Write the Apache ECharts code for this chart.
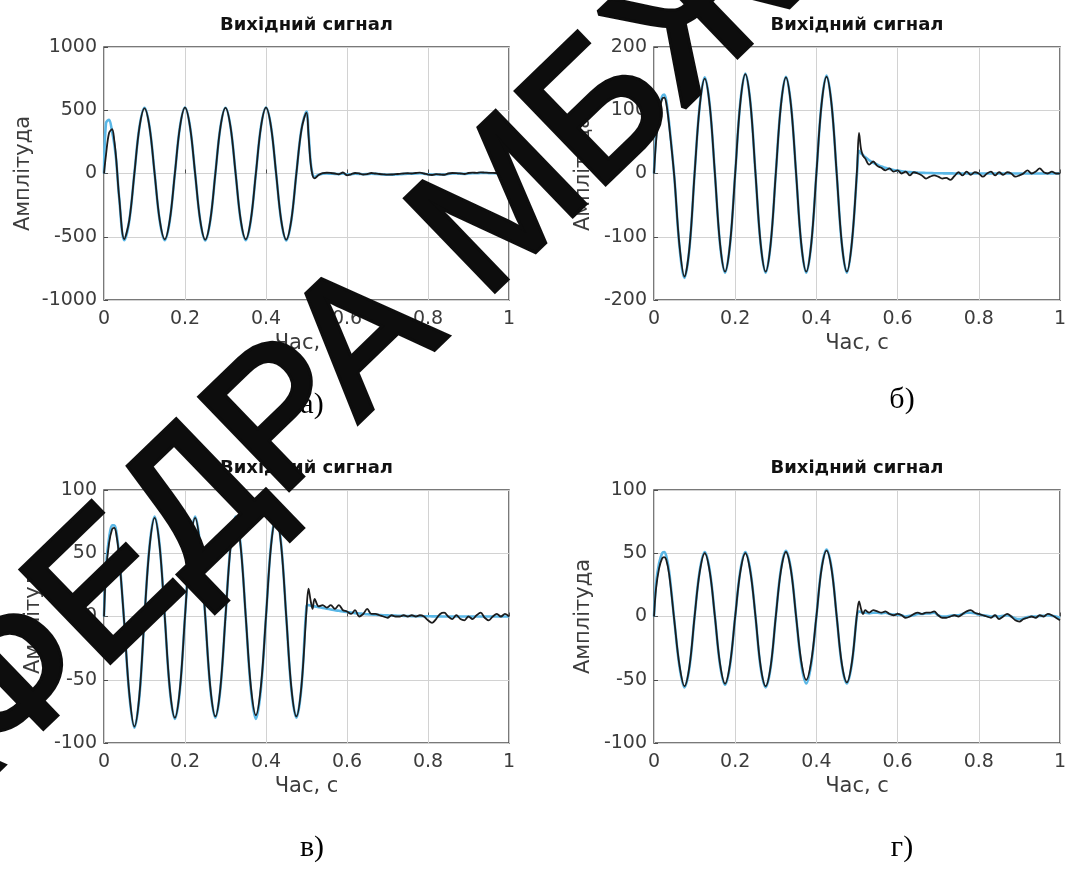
<!DOCTYPE html>
<html>
<head>
<meta charset="utf-8">
<script src="https://cdn.jsdelivr.net/npm/echarts@6/dist/echarts.min.js"></script>
<style>
html,body{margin:0;padding:0;background:#fff;}
#chart{width:1076px;height:890px;}
</style>
</head>
<body>
<div id="chart"></div>
<script>
// ---- data ----
const panelTitle = 'Вихідний сигнал';
const xName = 'Час, с';
const yName = 'Амплітуда';
const panelLabels = ['а)', 'б)', 'в)', 'г)'];
const watermarkText = 'КАФЕДРА МБЖ';

const time = [
  0, 0.005, 0.0125, 0.02, 0.025, 0.03, 0.0375,
  0.05, 0.0625, 0.075, 0.0875, 0.1, 0.1125, 0.125, 0.1375, 0.15, 0.1625, 0.175, 0.1875,
  0.2, 0.2125, 0.225, 0.2375, 0.25, 0.2625, 0.275, 0.2875, 0.3, 0.3125, 0.325, 0.3375,
  0.35, 0.3625, 0.375, 0.3875, 0.4, 0.4125, 0.425, 0.4375, 0.45, 0.4625, 0.475, 0.4875, 0.5,
  0.505, 0.51, 0.515, 0.52, 0.53, 0.54, 0.55, 0.56, 0.57, 0.58, 0.59, 0.6,
  0.61, 0.62, 0.63, 0.64, 0.65, 0.66, 0.67, 0.68, 0.69, 0.7,
  0.71, 0.72, 0.73, 0.74, 0.75, 0.76, 0.77, 0.78, 0.79, 0.8,
  0.81, 0.82, 0.83, 0.84, 0.85, 0.86, 0.87, 0.88, 0.89, 0.9,
  0.91, 0.92, 0.93, 0.94, 0.95, 0.96, 0.97, 0.98, 0.99, 1.0
];

// panel а)
const aBlack = [
  0, 150, 320, 350, 270, 120, -190,
  -518, -368, 0, 365, 515, 365, 0, -367, -520, -367, 0, 367,
  520, 367, 0, -368, -522, -368, 0, 366, 518, 366, 0, -367,
  -520, -367, 0, 367, 520, 367, 0, -368, -522, -368, 0, 345, 482,
  300, 90, -15, -38, -12, 3, 6, 4, 0, -6, 8, -14,
  -6, 4, 0, -8, -4, 4, 0, -4, -7, -9,
  -8, -5, -3, 0, 2, 0, 4, 7, 0, -8,
  -12, -5, -8, -10, 0, 4, 3, 0, -4, 4,
  7, 5, 9, 7, 5, 5, 3, 2, 1, 0
];
const aBlue = [
  0, 400, 425, 330, 240, 110, -195,
  -528, -372, 0, 368, 520, 368, 0, -372, -528, -372, 0, 370,
  522, 370, 0, -372, -530, -372, 0, 368, 520, 368, 0, -372,
  -528, -372, 0, 370, 522, 370, 0, -372, -530, -372, 0, 350, 490,
  320, 100, -5, -28, -10, -2, 0, -2, -3, -5, 0, -8,
  -6, -2, -3, -6, -5, -2, -3, -5, -8, -10,
  -10, -8, -6, -4, -2, -2, 0, 2, -2, -6,
  -9, -7, -8, -9, -4, 0, 0, -2, -3, 0,
  2, 2, 4, 4, 3, 2, 1, 0, 0, 0
];

// panel б)
const bBlack = [
  0, 50, 95, 118, 120, 112, 75,
  -5, -112, -163, -116, 0, 106, 150, 106, 0, -110, -155, -110,
  0, 111, 157, 111, 0, -110, -155, -110, 0, 107, 152, 107,
  0, -110, -155, -110, 0, 108, 153, 108, 0, -110, -155, -108, 5,
  64, 38, 28, 24, 14, 19, 12, 9, 5, 8, 3, 5,
  0, 3, -3, 2, 0, -3, -8, -5, -3, -5,
  -8, -7, -10, -4, 2, -3, 3, -2, 2, 0,
  -5, 0, 3, -3, 2, -2, 2, 0, -5, -3,
  0, 5, 0, 3, 8, 2, 0, 3, 0, 0
];
const bBlue = [
  0, 58, 100, 122, 125, 116, 78,
  -5, -114, -165, -117, 0, 107, 152, 107, 0, -111, -157, -111,
  0, 112, 158, 112, 0, -111, -157, -111, 0, 108, 153, 108,
  0, -111, -157, -111, 0, 109, 155, 109, 0, -111, -157, -109, 0,
  36, 32, 29, 26, 21, 17, 14, 11, 9, 7, 5.5, 4.5,
  3.5, 2.8, 2.2, 1.8, 1.4, 1.1, 0.9, 0.7, 0.5, 0.4,
  0.3, 0.2, 0.2, 0.1, 0.1, 0, 0, 0, 0, 0,
  0, 0, 0, 0, 0, 0, 0, 0, 0, 0,
  0, 0, 0, 0, 0, 0, 0, 0, 0, 0
];

// panel в)
const cBlack = [
  0, 35, 58, 69, 70, 66, 47,
  -5, -61, -87, -62, 0, 55, 78, 55, 0, -57, -80, -57,
  0, 55, 78, 55, 0, -56, -79, -56, 0, 55, 78, 55,
  0, -55, -78, -55, 0, 56, 79, 56, 0, -56, -79, -55, 5,
  22, 13, 6, 14, 8, 9, 7, 9, 6, 9, 5, 4,
  2, 5, 0, 2, 6, 2, 2, 1, 0, -1,
  1, 0, 0, 1, 0, 1, 0, 1, 0, -3,
  -5, -2, 2, 3, 0, -2, 1, -2, -3, 0,
  -2, 1, 3, -1, -3, 0, 2, 0, 2, 0
];
const cBlue = [
  0, 40, 62, 72, 72, 68, 48,
  -5, -62, -88, -63, 0, 56, 79, 56, 0, -58, -81, -58,
  0, 56, 79, 56, 0, -57, -80, -57, 0, 56, 79, 56,
  0, -57, -81, -57, 0, 57, 80, 57, 0, -57, -80, -56, 8,
  9, 8.6, 8.3, 8, 7.4, 6.8, 6.2, 5.6, 5, 4.5, 4, 3.5,
  3.1, 2.7, 2.4, 2.1, 1.8, 1.6, 1.4, 1.2, 1, 0.9,
  0.8, 0.7, 0.6, 0.5, 0.4, 0.3, 0.3, 0.2, 0.2, 0.2,
  0.1, 0.1, 0.1, 0, 0, 0, 0, 0, 0, 0,
  0, 0, 0, 0, 0, 0, 0, 0, 0, 0
];

// panel г)
const dBlack = [
  0, 22, 38, 46, 47, 45, 33,
  -3, -38, -55, -39, 0, 35, 50, 35, 0, -37, -53, -37,
  0, 35, 50, 35, 0, -39, -55, -39, 0, 36, 51, 36,
  0, -35, -50, -35, 0, 37, 52, 37, 0, -37, -52, -36, 2,
  12, 6, 2, 5, 3, 5, 4, 3, 4, 2, 1, 2,
  1, -1, 0, 2, 3, 2, 3, 3, 4, 1,
  -1, -1, 0, 1, 0, 2, 4, 5, 3, 2,
  1, 0, -1, 1, -2, 0, 2, 0, -3, -4,
  -2, -1, 0, -1, 1, 0, 2, 1, -1, -3
];
const dBlue = [
  0, 26, 42, 50, 51, 48, 35,
  -3, -39, -56, -40, 0, 36, 51, 36, 0, -38, -54, -38,
  0, 36, 51, 36, 0, -40, -56, -40, 0, 37, 52, 37,
  0, -37, -53, -37, 0, 38, 53, 38, 0, -38, -53, -37, 1,
  4, 3.5, 3, 3, 2.5, 3, 3, 2.5, 3, 2, 1.5, 1.5,
  1, 0, 0.5, 1, 2, 2, 2.5, 2.5, 3, 1,
  0, 0, 0.5, 1, 1, 2, 3, 3, 2.5, 1.5,
  1, 0.5, 0, 0.5, 0, 0.5, 1, 0, -1.5, -2,
  -1.5, -0.5, 0, 0, 0.5, 0.5, 1, 0.5, 0, -1
];

const yRanges = [
  { min: -1000, max: 1000, interval: 500 },
  { min: -200, max: 200, interval: 100 },
  { min: -100, max: 100, interval: 50 },
  { min: -100, max: 100, interval: 50 }
];
const blackSets = [aBlack, bBlack, cBlack, dBlack];
const blueSets = [aBlue, bBlue, cBlue, dBlue];

// ---- layout ----
const grids = [
  { left: 104, top: 47, width: 405, height: 253 },
  { left: 654, top: 47, width: 406, height: 253 },
  { left: 104, top: 490, width: 405, height: 253 },
  { left: 654, top: 490, width: 406, height: 253 }
];
const yNameGaps = [70, 60, 60, 60];
const labelPos = [[312, 405], [902, 400], [312, 848], [902, 848]];

const FONT = 'DejaVu Sans';
const TICK_COLOR = '#3c3c3c';
const BOX_COLOR = '#4d4d4d';
const GRID_COLOR = '#d2d2d2';

function zip(xs, ys) { return xs.map((x, i) => [x, ys[i]]); }

const option = {
  animation: false,
  backgroundColor: '#ffffff',
  grid: grids.map(g => Object.assign({ show: true, borderColor: BOX_COLOR, borderWidth: 1.5, backgroundColor: '#fff' }, g)),
  xAxis: grids.map((g, i) => ({
    type: 'value', gridIndex: i, min: 0, max: 1, interval: 0.2,
    name: xName, nameLocation: 'middle', nameGap: 33,
    nameTextStyle: { fontFamily: FONT, fontSize: 21, color: TICK_COLOR },
    axisLine: { show: false },
    axisTick: { show: true, inside: true, length: 4, lineStyle: { color: BOX_COLOR } },
    axisLabel: { fontFamily: FONT, fontSize: 19, color: TICK_COLOR, margin: 10, formatter: v => String(v) },
    splitLine: { show: true, lineStyle: { color: GRID_COLOR, width: 1 } }
  })),
  yAxis: grids.map((g, i) => ({
    type: 'value', gridIndex: i,
    min: yRanges[i].min, max: yRanges[i].max, interval: yRanges[i].interval,
    name: yName, nameLocation: 'middle', nameGap: yNameGaps[i],
    nameTextStyle: { fontFamily: FONT, fontSize: 21, color: TICK_COLOR },
    axisLine: { show: false },
    axisTick: { show: true, inside: true, length: 4, lineStyle: { color: BOX_COLOR } },
    axisLabel: { fontFamily: FONT, fontSize: 19, color: TICK_COLOR, margin: 7, formatter: v => String(v) },
    splitLine: { show: true, lineStyle: { color: GRID_COLOR, width: 1 } }
  })),
  series: [],
  graphic: []
};

for (let i = 0; i < 4; i++) {
  option.series.push({
    type: 'line', xAxisIndex: i, yAxisIndex: i, data: zip(time, blueSets[i]),
    showSymbol: false, symbol: 'none', smooth: 0.35, z: 2,
    lineStyle: { color: '#5ab7e6', width: 2.6 }
  });
  option.series.push({
    type: 'line', xAxisIndex: i, yAxisIndex: i, data: zip(time, blackSets[i]),
    showSymbol: false, symbol: 'none', smooth: 0.35, z: 3,
    lineStyle: { color: '#1c1c1c', width: 1.8 }
  });
  const g = grids[i];
  option.graphic.push({
    type: 'text', x: g.left + g.width / 2, y: g.top - 22, z: 10,
    style: { text: panelTitle, font: 'bold 18px "DejaVu Sans"', fill: '#111', align: 'center', verticalAlign: 'middle' }
  });
  option.graphic.push({
    type: 'text', x: labelPos[i][0], y: labelPos[i][1], z: 10,
    style: { text: panelLabels[i], font: '30px "Liberation Serif"', fill: '#000', align: 'center', verticalAlign: 'middle' }
  });
}

// diagonal watermark drawn over the figure
option.graphic.push({
  type: 'text', x: -199, y: 889, rotation: 44 * Math.PI / 180, z: 100,
  style: {
    text: watermarkText, font: '185px "Liberation Sans"', fill: '#0d0d0d',
    stroke: '#0d0d0d', lineWidth: 6, align: 'left', verticalAlign: 'middle'
  }
});

const chart = echarts.init(document.getElementById('chart'), null, { renderer: 'canvas' });
chart.setOption(option);
</script>
</body>
</html>
